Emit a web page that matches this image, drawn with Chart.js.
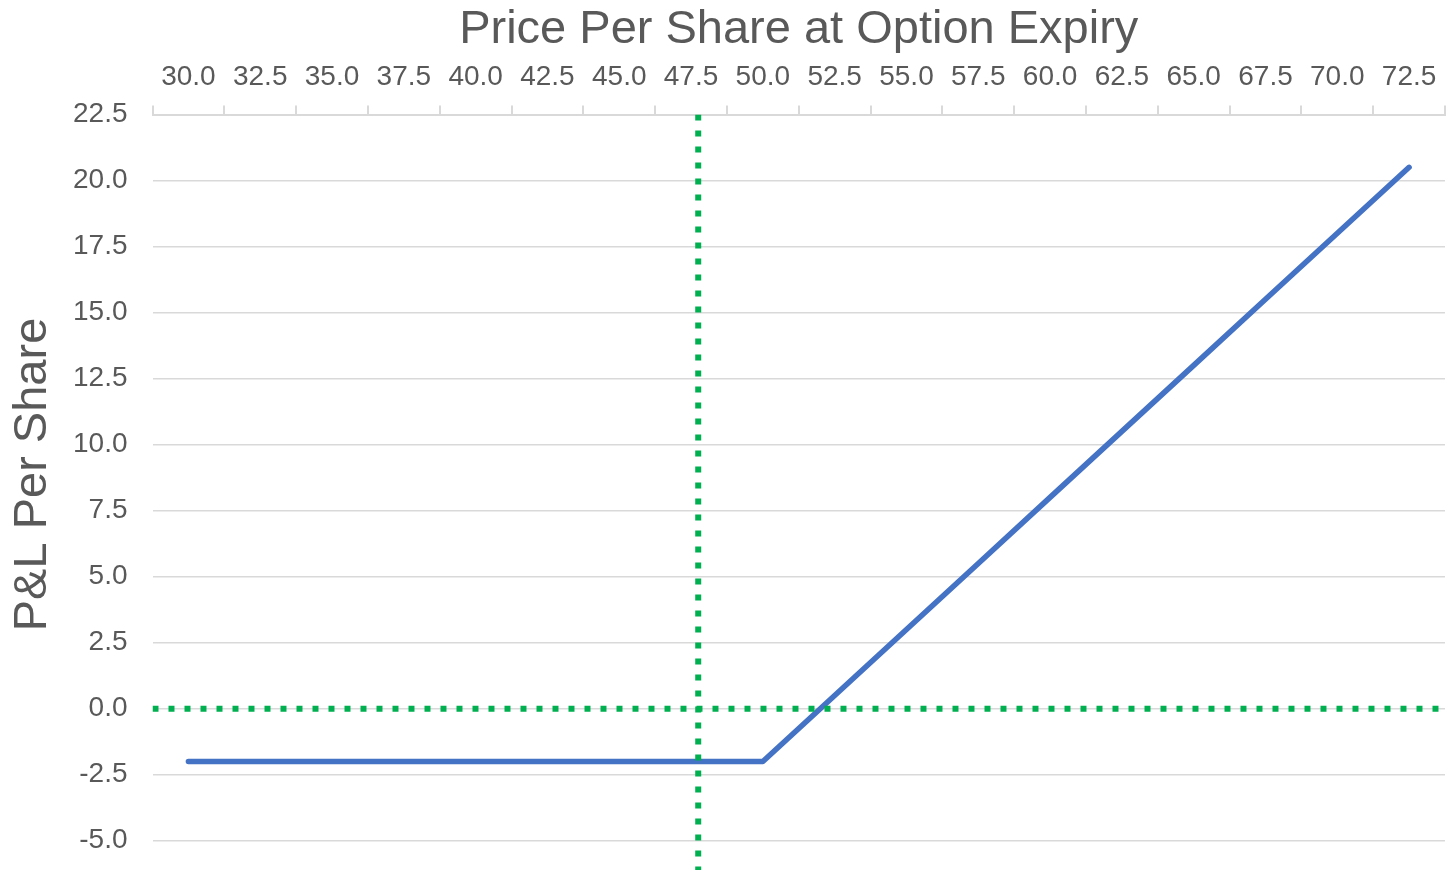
<!DOCTYPE html>
<html>
<head>
<meta charset="utf-8">
<title>Call option P&amp;L at expiry</title>
<script src="https://cdn.jsdelivr.net/npm/chart.js@4.4.1/dist/chart.umd.min.js"></script>
<style>
    html, body { margin: 0; padding: 0; background: #ffffff; }
    #wrap { width: 1449px; height: 870px; }
</style>
</head>
<body>
<div id="wrap"><canvas id="pnl-chart"></canvas></div>
<script>
// Data
const prices = [30.0, 32.5, 35.0, 37.5, 40.0, 42.5, 45.0, 47.5, 50.0,
                52.5, 55.0, 57.5, 60.0, 62.5, 65.0, 67.5, 70.0, 72.5];
const pnl = [-2.0, -2.0, -2.0, -2.0, -2.0, -2.0, -2.0, -2.0, -2.0,
             0.5, 3.0, 5.5, 8.0, 10.5, 13.0, 15.5, 18.0, 20.5];
const priceStep = 2.5;
const currentPrice = 47.75;   // dotted vertical marker
const zeroPnl = 0;            // dotted horizontal marker
const yMin = -6.11;
const yMax = 22.5;

const TEXT_COLOR = '#595959';
const GRID_COLOR = '#d9d9d9';
const FONT = "'Liberation Sans', Arial, Helvetica, sans-serif";

const xMin = prices[0] - priceStep / 2;
const xMax = prices[prices.length - 1] + priceStep / 2;

const pnlPoints = prices.map((p, i) => ({ x: p, y: pnl[i] }));
const verticalMarker = [{ x: currentPrice, y: yMax }, { x: currentPrice, y: yMin }];
const horizontalMarker = [{ x: xMin, y: zeroPnl }, { x: xMax, y: zeroPnl }];

const markerStyle = {
    borderColor: '#00b050',
    borderWidth: 6,
    borderDash: [6, 10],
    borderCapStyle: 'butt',
    pointRadius: 0,
    fill: false
};

new Chart(document.getElementById('pnl-chart'), {
    type: 'line',
    data: {
        datasets: [
            Object.assign({ label: 'Price marker', data: verticalMarker }, markerStyle),
            Object.assign({ label: 'Zero P&L', data: horizontalMarker }, markerStyle),
            {
                label: 'P&L',
                data: pnlPoints,
                borderColor: '#4472c4',
                borderWidth: 5.5,
                borderCapStyle: 'round',
                borderJoinStyle: 'round',
                pointRadius: 0,
                tension: 0,
                fill: false
            }
        ]
    },
    options: {
        responsive: true,
        maintainAspectRatio: false,
        animation: false,
        layout: { padding: { left: 0, right: 4, top: 0, bottom: 0 } },
        font: { family: FONT },
        plugins: {
            legend: { display: false },
            tooltip: { enabled: false }
        },
        scales: {
            x: {
                type: 'linear',
                position: 'top',
                min: xMin,
                max: xMax,
                afterBuildTicks: axis => {
                    axis.ticks = prices.map(v => ({ value: v }));
                },
                afterFit: axis => {
                    axis.height = 114.5;
                    axis.paddingLeft = 0;
                    axis.paddingRight = 0;
                },
                ticks: {
                    autoSkip: false,
                    maxRotation: 0,
                    padding: 11,
                    color: TEXT_COLOR,
                    font: { family: FONT, size: 28 },
                    callback: v => Number(v).toFixed(1)
                },
                grid: {
                    offset: true,
                    drawOnChartArea: false,
                    drawTicks: true,
                    tickLength: 9,
                    color: GRID_COLOR,
                    lineWidth: 2
                },
                border: { display: true, color: GRID_COLOR, width: 2 },
                title: {
                    display: true,
                    text: 'Price Per Share at Option Expiry',
                    color: TEXT_COLOR,
                    font: { family: FONT, size: 47 },
                    padding: { top: 2, bottom: 0 }
                }
            },
            y: {
                min: yMin,
                max: yMax,
                afterFit: axis => {
                    axis.width = 152.5;
                    axis.paddingTop = 0;
                    axis.paddingBottom = 0;
                },
                ticks: {
                    stepSize: 2.5,
                    includeBounds: false,
                    padding: 25,
                    color: TEXT_COLOR,
                    font: { family: FONT, size: 28 },
                    callback: v => Number(v).toFixed(1)
                },
                grid: { color: GRID_COLOR, lineWidth: 1.5, drawTicks: false },
                border: { display: false },
                title: {
                    display: true,
                    text: '  \u2009P&L Per Share',
                    color: TEXT_COLOR,
                    font: { family: FONT, size: 47 },
                    padding: { top: 5, bottom: 0 }
                }
            }
        }
    }
});
</script>
</body>
</html>
